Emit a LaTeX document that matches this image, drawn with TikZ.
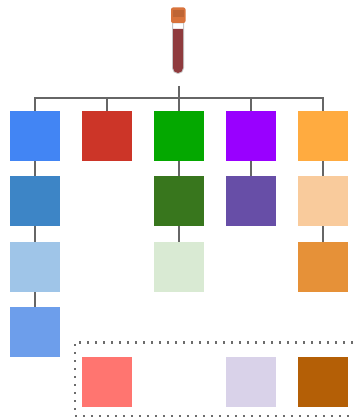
\documentclass[tikz,border=0pt]{standalone}
\usepackage{tikz}
\usetikzlibrary{arrows,positioning}
\definecolor{cblue}{HTML}{4285F4}
\definecolor{cred}{HTML}{CC3528}
\definecolor{cgreen}{HTML}{04A800}
\definecolor{cpurple}{HTML}{9900FF}
\definecolor{corange}{HTML}{FFAB40}
\definecolor{csteel}{HTML}{3D85C6}
\definecolor{cforest}{HTML}{38761D}
\definecolor{cindigo}{HTML}{674EA7}
\definecolor{cpeach}{HTML}{F9CB9C}
\definecolor{csky}{HTML}{9FC5E8}
\definecolor{cmint}{HTML}{D9EAD3}
\definecolor{camber}{HTML}{E69138}
\definecolor{ccorn}{HTML}{6D9EEB}
\definecolor{csalmon}{HTML}{FF7570}
\definecolor{clilac}{HTML}{D9D2E9}
\definecolor{cbrown}{HTML}{B45F06}
\definecolor{cline}{HTML}{666666}
\definecolor{cblood}{HTML}{8F3B3E}
\definecolor{ccap}{HTML}{D8733C}
\begin{document}
\begin{tikzpicture}[x=1pt,y=1pt,
    tile/.style={minimum size=50pt,inner sep=0pt,outer sep=0pt},
    link/.style={draw=cline,line width=2pt}]
  \useasboundingbox (0,0) rectangle (353,-417);
  % tube
  \draw[gray!45,line width=1pt,fill=white] (172.5,-23) -- (172.5,-68) arc[start angle=180,end angle=360,radius=5.5] -- (183.5,-23) -- cycle;
  \fill[cblood] (173,-29) -- (173,-68) arc[start angle=180,end angle=360,radius=5] -- (183,-29) -- cycle;
  \fill[ccap,rounded corners=2pt] (171,-7.5) rectangle (185.5,-23);
  \fill[ccap!88!black] (173,-10) rectangle (183.5,-17);
  \coordinate (trunk) at (179,-86);
  \coordinate (bus) at (179,-98.5);
  % top row
  \node [tile,fill=cblue] (blue) at (35,-136) {};
  \node [tile,fill=cred,right=22pt of blue] (red) {};
  \node [tile,fill=cgreen,right=22pt of red] (green) {};
  \node [tile,fill=cpurple,right=22pt of green] (purple) {};
  \node [tile,fill=corange,right=22pt of purple] (orange) {};
  % columns
  \node [tile,fill=csteel,below=15pt of blue] (steel) {};
  \node [tile,fill=csky,below=16pt of steel] (sky) {};
  \node [tile,fill=ccorn,below=15pt of sky] (corn) {};
  \node [tile,fill=cforest,below=15pt of green] (forest) {};
  \node [tile,fill=cmint,below=16pt of forest] (mint) {};
  \node [tile,fill=cindigo,below=15pt of purple] (indigo) {};
  \node [tile,fill=cpeach,below=15pt of orange] (peach) {};
  \node [tile,fill=camber,below=16pt of peach] (amber) {};
  % bottom row
  \node [tile,fill=csalmon,below=196pt of red] (salmon) {};
  \node [tile,fill=clilac,below=196pt of purple] (lilac) {};
  \node [tile,fill=cbrown,below=196pt of orange] (brown) {};
  % links
  \draw[link] (trunk) -- (bus);
  \foreach \top in {blue,red,green,purple,orange}
    \draw[link] (bus) -| (\top.north);
  \draw[link] (blue) -- (steel);
  \draw[link] (steel) -- (sky);
  \draw[link] (sky) -- (corn);
  \draw[link] (green) -- (forest);
  \draw[link] (forest) -- (mint);
  \draw[link] (purple) -- (indigo);
  \draw[link] (orange) -- (peach);
  \draw[link] (peach) -- (amber);
  % dotted frame
  \draw[gray!85!black,line width=2.2pt,dash pattern=on 2pt off 6pt] (353,-342.5) -- (74.7,-342.5) -- (74.7,-416) -- (353,-416);
\end{tikzpicture}
\end{document}
